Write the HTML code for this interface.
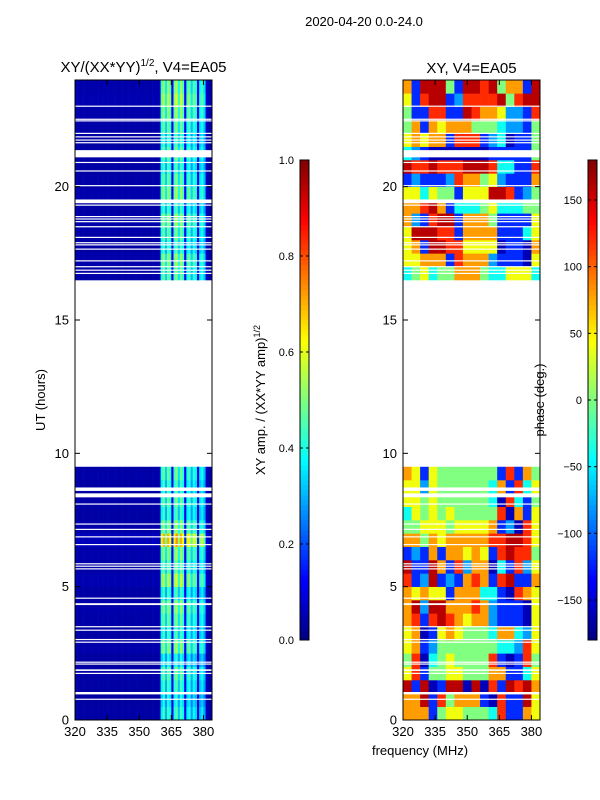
<!DOCTYPE html>
<html><head><meta charset="utf-8">
<style>
body{margin:0;background:#fff;}
svg{display:block;font-family:"Liberation Sans","DejaVu Sans",sans-serif;}
</style></head>
<body>
<svg id="fig" width="600" height="800" viewBox="0 0 600 800">
<g id="g"></g>
<text x="364" y="26" font-size="13" text-anchor="middle">2020-04-20 0.0-24.0</text>
<text x="143.5" y="72" font-size="15" text-anchor="middle">XY/(XX*YY)<tspan font-size="10" dy="-6">1/2</tspan><tspan dy="6">, V4=EA05</tspan></text>
<text x="471.5" y="73" font-size="15" text-anchor="middle">XY, V4=EA05</text>
<text x="420" y="755" font-size="13" text-anchor="middle">frequency (MHz)</text>
<text transform="translate(45,400) rotate(-90)" font-size="13" text-anchor="middle">UT (hours)</text>
<text transform="translate(265,400) rotate(-90)" font-size="13" text-anchor="middle">XY amp. / (XX*YY amp)<tspan font-size="9" dy="-5">1/2</tspan></text>
<text transform="translate(544,400) rotate(-90)" font-size="13" text-anchor="middle">phase (deg.)</text>
</svg>
<script>
// ---- data ----
const freqRange = [320, 384];
const hourRange = [0, 24];
const xTicks = [320, 335, 350, 365, 380];
const yTicks = [0, 5, 10, 15, 20];
// amplitude per 1 MHz channel (320..383)
const ampCols = [0.04,0.04,0.03,0.04,0.04,0.03,0.04,0.04,0.03,0.04,0.04,0.03,0.04,0.04,0.03,0.04,
0.04,0.03,0.04,0.04,0.03,0.04,0.04,0.03,0.04,0.04,0.03,0.04,0.04,0.03,0.04,0.04,
0.03,0.04,0.04,0.03,0.04,0.04,0.03,0.05,0.36,0.44,0.3,0.44,0.38,0.1,0.4,0.46,
0.32,0.44,0.38,0.1,0.36,0.4,0.28,0.38,0.34,0.1,0.32,0.36,0.28,0.06,0.04,0.04];
// row multipliers, 0.5 h blocks starting at 0h; null = no data
const ampRows = [1.0,0.9,1.0,1.1,0.9,1.2,1.0,1.1,1.2,1.0,1.3,1.1,1.2,1.6,1.2,1.0,1.1,1.0,1.1,
null,null,null,null,null,null,null,null,null,null,null,null,null,null,
1.1,1.2,1.0,1.1,1.2,1.0,1.2,1.1,1.0,1.1,1.0,1.1,1.2,1.3,1.2];
// phase digits (0..9 -> -160..200 step 40), 16 cols of 4 MHz, rows 0.5 h from 0h
const phaseRows = ["6661455444371165","6681746661071185","8180188080718786","5714455444661135",
"4703454444710174","5612444444433275","5601565444366325","6717876566211105","6828866676211105",
"6565516663310765","7128121676178116","8118617266031725","1216166565178774","6646566666778875",
"4455545555612075","3545454444470615","5545444444307314","5525444444361735","6515444444417164",
"","","","","","","","","","","","","","",
"3453446664335553","5566617666211105","5618877555501106","5888771666611135","6217881666411115",
"6678613334533344","5535441555887124","1211127664521116","8778777888733117","3210000000111114",
"5656617771230114","4616566644432214","4117711876652217","5178812777784788","6188841887846618"];
// flagged (missing) time ranges in hours
const gapStart = [9.5,8.59,8.35,8.08,7.33,7.13,6.85,6.56,5.84,5.75,5.65,4.55,4.31,3.48,3.35,3.0,2.9,2.15,2.08,1.84,1.73,0.96,0.76,
23.0,22.51,22.45,21.98,21.85,21.73,21.63,21.1,20.89,20.57,20.02,19.38,19.29,18.86,18.77,18.67,18.48,18.08,17.88,17.8,17.64,17.2,16.98,16.85,16.73];
const gapEnd = [16.47,8.72,8.5,8.12,7.37,7.17,6.89,6.6,5.88,5.79,5.69,4.59,4.38,3.52,3.39,3.04,2.94,2.19,2.12,1.9,1.77,1.05,0.8,
23.04,22.55,22.49,22.02,21.89,21.77,21.67,21.37,20.93,20.61,20.06,19.52,19.33,18.9,18.81,18.71,18.52,18.12,17.92,17.84,17.68,17.24,17.02,16.89,16.77];
const ampCbTicks = [0.0,0.2,0.4,0.6,0.8,1.0];
const phCbTicks = [-150,-100,-50,0,50,100,150];

// ---- drawing ----
const NS="http://www.w3.org/2000/svg";
const G=document.getElementById('g');
function mk(t,a,p){const e=document.createElementNS(NS,t);for(const k in a)e.setAttribute(k,a[k]);(p||G).appendChild(e);return e;}
function jet(v){v=Math.max(0,Math.min(1,v));
 const r=Math.max(0,Math.min(1,1.5-Math.abs(4*v-3))),g=Math.max(0,Math.min(1,1.5-Math.abs(4*v-2))),b=Math.max(0,Math.min(1,1.5-Math.abs(4*v-1)));
 return `rgb(${Math.round(r*255)},${Math.round(g*255)},${Math.round(b*255)})`;}
const PT=80,PB=720;
function yS(h){return PB-(h-hourRange[0])/(hourRange[1]-hourRange[0])*(PB-PT);}
function panel(x0,x1,name,kind){
 const xS=f=>x0+(f-freqRange[0])/(freqRange[1]-freqRange[0])*(x1-x0);
 const grp=mk('g',{});
 
 
 if(kind==='amp'){
  ampRows.forEach((m,r)=>{ if(m===null)return;
   ampCols.forEach((a,c)=>{
    const cell=mk('rect',{x:xS(320+c),y:yS((r+1)*0.5),width:xS(321+c)-xS(320+c)+0.3,height:yS(r*0.5)-yS((r+1)*0.5)+0.3,fill:jet(a*m)},grp);
    
    
   });});
 } else {
  phaseRows.forEach((s,r)=>{ if(!s)return;
   for(let c=0;c<s.length;c++){
    const ph=-160+(+s[c])*40; const v=(Math.max(-180,Math.min(180,ph))+180)/360;
    const cell=mk('rect',{x:xS(320+4*c),y:yS((r+1)*0.5),width:xS(324+4*c)-xS(320+4*c)+0.3,height:yS(r*0.5)-yS((r+1)*0.5)+0.3,fill:jet(v)},grp);
    
    
   }});
 }
 gapStart.forEach((s,i)=>{
  const gr=mk('rect',{x:x0,y:yS(gapEnd[i]),width:x1-x0,height:Math.max(1.2,yS(s)-yS(gapEnd[i])),fill:'#fff'},grp);
  
  
 });
 const fr=mk('rect',{x:x0,y:PT,width:x1-x0,height:PB-PT,fill:'none',stroke:'#000','stroke-width':1});
 
 
 xTicks.forEach(t=>{const x=xS(t);
  mk('line',{x1:x,x2:x,y1:PB,y2:PB-5,stroke:'#000'});mk('line',{x1:x,x2:x,y1:PT,y2:PT+5,stroke:'#000'});
  const tx=mk('text',{x:x,y:PB+16,'font-size':13,'text-anchor':'middle'});tx.textContent=t;
  
  });
 yTicks.forEach(t=>{const y=yS(t);
  mk('line',{x1:x0,x2:x0+5,y1:y,y2:y,stroke:'#000'});mk('line',{x1:x1,x2:x1-5,y1:y,y2:y,stroke:'#000'});
  const tx=mk('text',{x:x0-6,y:y+4.5,'font-size':13,'text-anchor':'end'});tx.textContent=t;
  
  });
}
panel(75,212,'amp','amp');
panel(403,540,'phase','phase');
function cbar(x,name,ticks,lo,hi){
 const cg=mk('g',{});
 
 
 const T=160,B=640,N=96;
 for(let i=0;i<N;i++){mk('rect',{x:x,y:B-(i+1)*(B-T)/N,width:9,height:(B-T)/N+0.4,fill:jet((i+0.5)/N)},cg);}
 mk('rect',{x:x,y:T,width:9,height:B-T,fill:'none',stroke:'#000'},cg);
 ticks.forEach(t=>{const y=B-(t-lo)/(hi-lo)*(B-T);
  mk('line',{x1:x,x2:x+3,y1:y,y2:y,stroke:'#000'},cg);mk('line',{x1:x+9,x2:x+6,y1:y,y2:y,stroke:'#000'},cg);
  const tx=mk('text',{x:x-6,y:y+4,'font-size':11,'text-anchor':'end'},cg);
  tx.textContent=(lo===0?t.toFixed(1):(t<0?'\u2212'+(-t):t));
  
  });
}
cbar(300,'amp-colorbar',ampCbTicks,0,1);
cbar(588,'phase-colorbar',phCbTicks,-180,180);
</script>
</body></html>
